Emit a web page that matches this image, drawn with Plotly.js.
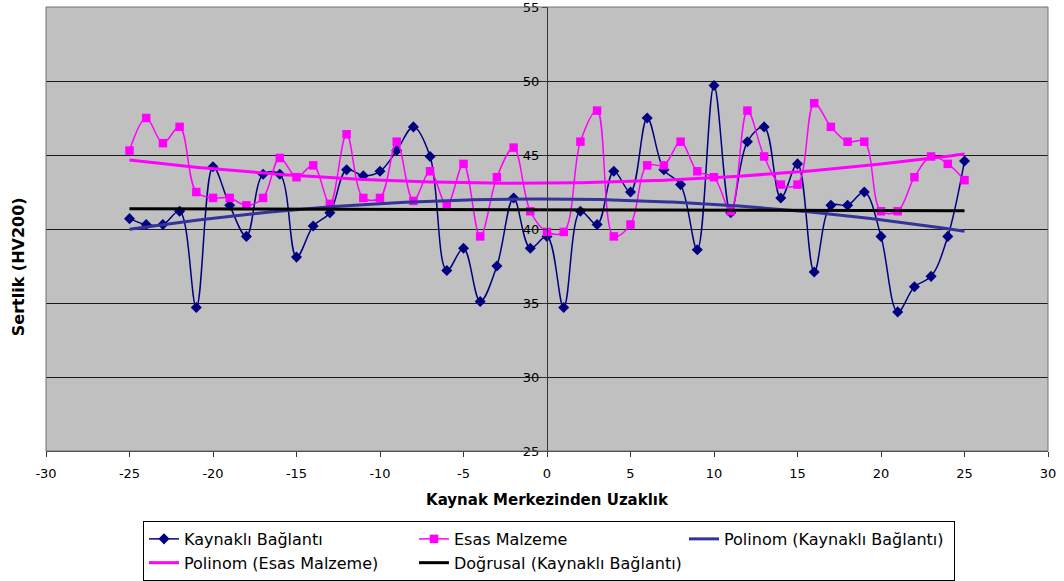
<!DOCTYPE html>
<html>
<head>
<meta charset="utf-8">
<script src="https://cdn.plot.ly/plotly-3.0.1.min.js"></script>
<style>
  html, body { margin: 0; padding: 0; background: #ffffff; }
  #chart { width: 1064px; height: 581px; }
</style>
</head>
<body>
<div id="chart"></div>
<script>
// Distance from the weld centre (mm)
const distance = [-25, -24, -23, -22, -21, -20, -19, -18, -17, -16, -15, -14, -13, -12,
  -11, -10, -9, -8, -7, -6, -5, -4, -3, -2, -1, 0,
  1, 2, 3, 4, 5, 6, 7, 8, 9, 10, 11, 12,
  13, 14, 15, 16, 17, 18, 19, 20, 21, 22, 23, 24, 25];

// Hardness of the welded joint (HV200)
const kaynakliBaglanti = [40.7, 40.3, 40.3, 41.2, 34.7, 44.2, 41.6, 39.5, 43.7, 43.7, 38.1, 40.2, 41.1, 44.0,
  43.6, 43.9, 45.3, 46.9, 44.9, 37.2, 38.7, 35.1, 37.5, 42.1, 38.7, 39.5,
  34.7, 41.2, 40.3, 43.9, 42.5, 47.5, 44.0, 43.0, 38.6, 49.7, 41.1, 45.9,
  46.9, 42.1, 44.4, 37.1, 41.6, 41.6, 42.5, 39.5, 34.4, 36.1, 36.8, 39.5, 44.6];

// Hardness of the base material (HV200)
const esasMalzeme = [45.3, 47.5, 45.8, 46.9, 42.5, 42.1, 42.1, 41.6, 42.1, 44.8, 43.5, 44.3, 41.7, 46.4,
  42.1, 42.1, 45.9, 41.9, 43.9, 41.6, 44.4, 39.5, 43.5, 45.5, 41.2, 39.8,
  39.8, 45.9, 48.0, 39.5, 40.3, 44.3, 44.3, 45.9, 43.9, 43.5, 41.2, 48.0,
  44.9, 43.0, 43.0, 48.5, 46.9, 45.9, 45.9, 41.2, 41.2, 43.5, 44.9, 44.4, 43.3];

const xTicks = [-30, -25, -20, -15, -10, -5, 0, 5, 10, 15, 20, 25, 30];
const yTicks = [25, 30, 35, 40, 45, 50, 55];

// Least-squares polynomial fit (degree 1 or 2) of y on x
function polyFit(x, y, deg) {
  const n = deg + 1;
  const A = Array.from({length: n}, () => new Array(n + 1).fill(0));
  for (let i = 0; i < x.length; i++) {
    for (let r = 0; r < n; r++) {
      for (let c = 0; c < n; c++) A[r][c] += Math.pow(x[i], r + c);
      A[r][n] += y[i] * Math.pow(x[i], r);
    }
  }
  for (let p = 0; p < n; p++) {
    let best = p;
    for (let r = p + 1; r < n; r++) if (Math.abs(A[r][p]) > Math.abs(A[best][p])) best = r;
    [A[p], A[best]] = [A[best], A[p]];
    for (let r = 0; r < n; r++) {
      if (r === p) continue;
      const f = A[r][p] / A[p][p];
      for (let c = p; c <= n; c++) A[r][c] -= f * A[p][c];
    }
  }
  return A.map((row, i) => row[n] / row[i]);
}
function trend(coef) {
  const xs = [], ys = [];
  const lo = distance[0], hi = distance[distance.length - 1];
  for (let k = 0; k <= 200; k++) {
    const xv = lo + (hi - lo) * k / 200;
    xs.push(xv);
    ys.push(coef.reduce((s, c, i) => s + c * Math.pow(xv, i), 0));
  }
  return {xs, ys};
}

const polyKaynakli = trend(polyFit(distance, kaynakliBaglanti, 2));
const polyEsas = trend(polyFit(distance, esasMalzeme, 2));
const linKaynakli = trend(polyFit(distance, kaynakliBaglanti, 1));

const traces = [
  {x: distance, y: kaynakliBaglanti, name: 'Kaynaklı Bağlantı', type: 'scatter', mode: 'lines+markers',
   line: {color: '#000080', width: 1.5, shape: 'spline', smoothing: 1},
   marker: {symbol: 'diamond', size: 8.5, color: '#000080'}},
  {x: distance, y: esasMalzeme, name: 'Esas Malzeme', type: 'scatter', mode: 'lines+markers',
   line: {color: '#FF00FF', width: 1.5, shape: 'spline', smoothing: 1},
   marker: {symbol: 'square', size: 8.5, color: '#FF00FF'}},
  {x: polyKaynakli.xs, y: polyKaynakli.ys, name: 'Polinom (Kaynaklı Bağlantı)', type: 'scatter', mode: 'lines',
   line: {color: '#333399', width: 3}},
  {x: polyEsas.xs, y: polyEsas.ys, name: 'Polinom (Esas Malzeme)', type: 'scatter', mode: 'lines',
   line: {color: '#FF00FF', width: 3}},
  {x: linKaynakli.xs, y: linKaynakli.ys, name: 'Doğrusal (Kaynaklı Bağlantı)', type: 'scatter', mode: 'lines',
   line: {color: '#000000', width: 3}},
  // carrier for the value axis drawn through x = 0
  {x: distance, y: kaynakliBaglanti, yaxis: 'y2', type: 'scatter', mode: 'none',
   showlegend: false, hoverinfo: 'skip'}
];

const layout = {
  width: 1064, height: 581,
  margin: {l: 46, r: 16, t: 7, b: 130, autoexpand: false},
  paper_bgcolor: '#ffffff',
  plot_bgcolor: '#C0C0C0',
  font: {family: '"DejaVu Sans", sans-serif', size: 13, color: '#000000'},
  showlegend: true,
  xaxis: {
    range: [-30, 30], tickvals: xTicks, ticktext: xTicks.map(String),
    showgrid: false, zeroline: false,
    showline: true, linecolor: '#333333', linewidth: 1,
    ticks: 'outside', ticklen: 5, tickcolor: '#333333',
    ticklabelstandoff: 5,
    title: {text: '<b>Kaynak Merkezinden Uzaklık</b>', font: {size: 15}, standoff: 14}
  },
  yaxis: {
    range: [25, 55], tickvals: yTicks,
    showgrid: true, gridcolor: '#1a1a1a', gridwidth: 1,
    zeroline: false, showline: false, showticklabels: false, ticks: ''
  },
  yaxis2: {
    range: [25, 55], tickvals: yTicks, ticktext: yTicks.map(String),
    overlaying: 'y', anchor: 'free', position: 0.5, side: 'left',
    showgrid: false, zeroline: false,
    showline: true, linecolor: '#333333', linewidth: 1,
    ticks: 'outside', ticklen: 5, tickcolor: '#333333',
    ticklabeloverflow: 'allow'
  },
  annotations: [
    {text: '<b>Sertlik (HV200)</b>', textangle: -90, showarrow: false,
     xref: 'paper', yref: 'paper', x: -0.0279, y: 0.414, xanchor: 'center', yanchor: 'middle',
     font: {size: 16}}
  ],
  shapes: [
    {type: 'rect', xref: 'x domain', yref: 'y domain', x0: 0, x1: 1, y0: 0, y1: 1,
     line: {color: '#707070', width: 1}, layer: 'above'}
  ],
  legend: {
    orientation: 'h', x: 0.0968, xanchor: 'left', y: -0.1576, yanchor: 'top',
    bordercolor: '#000000', borderwidth: 1, bgcolor: '#ffffff',
    entrywidth: 225, entrywidthmode: 'pixels', itemwidth: 30,
    font: {size: 16}, tracegroupgap: 0
  }
};

Plotly.newPlot('chart', traces, layout, {displayModeBar: false, staticPlot: true});
</script>
</body>
</html>
